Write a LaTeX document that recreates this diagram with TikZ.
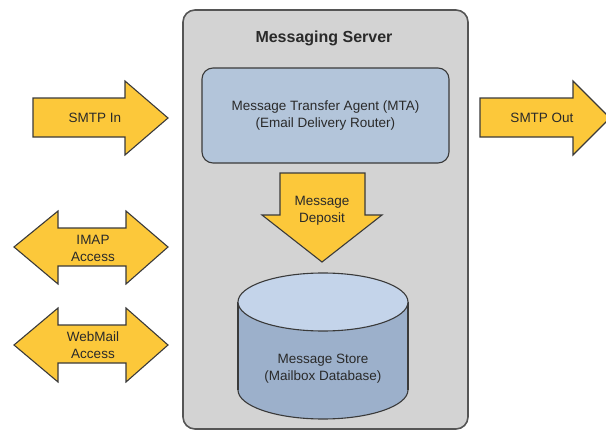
\documentclass[tikz,border=0pt]{standalone}
\usepackage{fontspec}
\setmainfont{Liberation Sans}
\definecolor{arrowyellow}{HTML}{FCC83A}
\definecolor{edgegray}{HTML}{3A3A3A}
\definecolor{servergray}{HTML}{D3D3D3}
\definecolor{serveredge}{HTML}{555555}
\definecolor{mtablue}{HTML}{B3C5DA}
\definecolor{cyltop}{HTML}{C4D4EA}
\definecolor{cylside}{HTML}{9CB0CB}
\definecolor{txtgray}{HTML}{2A2A2A}
\begin{document}
\begin{tikzpicture}[x=1pt,y=-1pt,
  blockarrow/.style={fill=arrowyellow,draw=edgegray,line width=1.1pt,line join=miter},
  lbl/.style={text=txtgray,font=\fontsize{13.5}{17}\selectfont,align=center,inner sep=0pt},
  cylpart/.style={draw=edgegray,line width=1.1pt}]
\useasboundingbox (0,0) rectangle (606,431);
% server
\draw[fill=servergray,draw=serveredge,line width=1.6pt,rounded corners=12pt] (183,10) rectangle (468,429);
\node[lbl,font=\bfseries\fontsize{16}{19}\selectfont] (title) at (324,38) {Messaging Server};
% MTA
\node[draw=edgegray,line width=1.1pt,fill=mtablue,rounded corners=11pt,minimum width=247pt,minimum height=95pt,inner sep=0pt] (mta) at (325.5,115.5) {};
\node[lbl] (mtatext) at (mta.center) {Message Transfer Agent (MTA)\\(Email Delivery Router)};
% deposit arrow
\draw[blockarrow] (280,173) -- (365,173) -- (365,215) -- (382,215) -- (322,262) -- (262,215) -- (280,215) -- cycle;
\node[lbl] (deposit) at (322,211) {Message\\Deposit};
% cylinder
\filldraw[cylpart,fill=cylside] (323,390) ellipse[x radius=85,y radius=29];
\fill[cylside] (238,302) rectangle (408,390);
\draw[cylpart] (238,302) -- (238,390);
\draw[cylpart] (408,302) -- (408,390);
\filldraw[cylpart,fill=cyltop] (323,302) ellipse[x radius=85,y radius=29];
\node[lbl] (store) at (323,369) {Message Store\\(Mailbox Database)};
% SMTP In
\draw[blockarrow] (33,98) -- (125,98) -- (125,81) -- (168,118) -- (125,155) -- (125,137) -- (33,137) -- cycle;
\node[lbl] (smtpin) at (95,118) {SMTP In};
% SMTP Out
\draw[blockarrow] (480,98) -- (573,98) -- (573,81) -- (610,118) -- (573,155) -- (573,137) -- (480,137) -- cycle;
\node[lbl] (smtpout) at (542,118) {SMTP Out};
% IMAP
\draw[blockarrow] (14,247) -- (58,211) -- (58,228) -- (126,228) -- (126,211) -- (168,247) -- (126,284) -- (126,266) -- (58,266) -- (58,284) -- cycle;
\node[lbl] (imap) at (93,248) {IMAP\\Access};
% WebMail
\draw[blockarrow] (14,345) -- (58,308) -- (58,325) -- (126,325) -- (126,308) -- (168,345) -- (126,382) -- (126,363) -- (58,363) -- (58,382) -- cycle;
\node[lbl] (webmail) at (93,345) {WebMail\\Access};
\end{tikzpicture}
\end{document}
